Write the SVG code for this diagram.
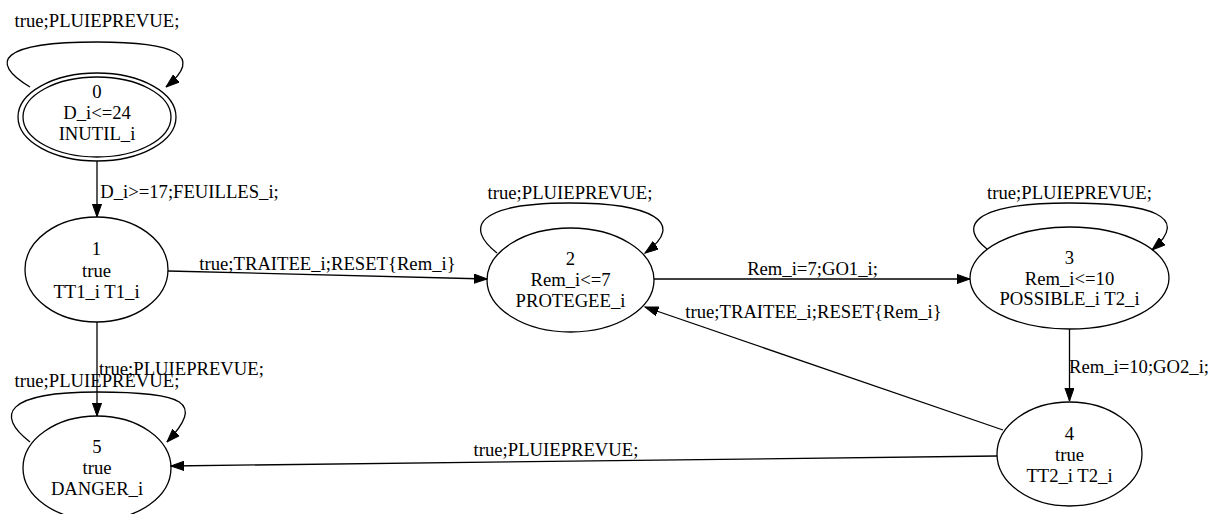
<svg xmlns="http://www.w3.org/2000/svg" width="1211" height="514" viewBox="0 0 1211 514">
<style>
.n{fill:none;stroke:#000;stroke-width:1.3}
.e{fill:none;stroke:#000;stroke-width:1.3;marker-end:url(#ah)}
text{font-family:"Liberation Serif","Times New Roman",serif;font-size:18.67px;fill:#000;text-anchor:middle}
</style>
<defs>
<marker id="ah" markerUnits="userSpaceOnUse" markerWidth="14" markerHeight="10" refX="13.3" refY="4.7" orient="auto">
<path d="M0,0 L13.3,4.7 L0,9.4 Z" fill="#000" stroke="#000" stroke-width="1"/>
</marker>
</defs>
<rect width="1211" height="514" fill="#fff"/>
<g id="connectors">
<path class="e" d="M30,87 C-12,62 0,42 97,42 C175,42 205,55 166,87"/>
<text x="97" y="27">true;PLUIEPREVUE;</text>
<path class="e" d="M97,161 L97,217"/>
<text x="189.5" y="198">D_i&gt;=17;FEUILLES_i;</text>
<path class="e" d="M168,271 L487,279"/>
<text x="327.5" y="270">true;TRAITEE_i;RESET{Rem_i}</text>
<path class="e" d="M97,322 L97,416"/>
<text x="181.5" y="375">true;PLUIEPREVUE;</text>
<path class="e" d="M30,442 C-5,415 5,392 97,392 C185,392 205,402 167,442"/>
<text x="97" y="387">true;PLUIEPREVUE;</text>
<path class="e" d="M497,253 C465,228 475,203 570,203 C650,203 688,222 645,253"/>
<text x="570" y="199">true;PLUIEPREVUE;</text>
<path class="e" d="M654,279 L970,279"/>
<text x="812.5" y="275">Rem_i=7;GO1_i;</text>
<path class="e" d="M987,249 C960,228 968,203 1069,203 C1150,203 1192,216 1152,250"/>
<text x="1069.5" y="199">true;PLUIEPREVUE;</text>
<path class="e" d="M1069.5,329 L1069.5,401"/>
<text x="1139" y="373">Rem_i=10;GO2_i;</text>
<path class="e" d="M1003,430 L645,307"/>
<text x="813.5" y="318">true;TRAITEE_i;RESET{Rem_i}</text>
<path class="e" d="M997,456 L171,466"/>
<text x="556" y="456">true;PLUIEPREVUE;</text>
</g>
<g id="node0">
<ellipse class="n" cx="97" cy="117" rx="74" ry="40"/>
<ellipse class="n" cx="97" cy="117" rx="79" ry="44"/>
<text x="97" y="98">0</text>
<text x="97" y="119">D_i&lt;=24</text>
<text x="97" y="140">INUTIL_i</text>
</g>
<g id="node1">
<ellipse class="n" cx="96.5" cy="269.5" rx="71.5" ry="52.5"/>
<text x="96.5" y="255">1</text>
<text x="96.5" y="277">true</text>
<text x="96.5" y="298">TT1_i T1_i</text>
</g>
<g id="node2">
<ellipse class="n" cx="570.5" cy="280" rx="83.5" ry="52"/>
<text x="570.5" y="265">2</text>
<text x="570.5" y="286">Rem_i&lt;=7</text>
<text x="570.5" y="307">PROTEGEE_i</text>
</g>
<g id="node3">
<ellipse class="n" cx="1069.5" cy="278" rx="99.5" ry="51"/>
<text x="1069.5" y="264">3</text>
<text x="1069.5" y="285">Rem_i&lt;=10</text>
<text x="1069.5" y="305">POSSIBLE_i T2_i</text>
</g>
<g id="node4">
<ellipse class="n" cx="1069.5" cy="454" rx="72.5" ry="52"/>
<text x="1069.5" y="440">4</text>
<text x="1069.5" y="461">true</text>
<text x="1069.5" y="482">TT2_i T2_i</text>
</g>
<g id="node5">
<ellipse class="n" cx="97" cy="468" rx="74" ry="52"/>
<text x="97" y="453">5</text>
<text x="97" y="474">true</text>
<text x="97" y="495">DANGER_i</text>
</g>
</svg>
